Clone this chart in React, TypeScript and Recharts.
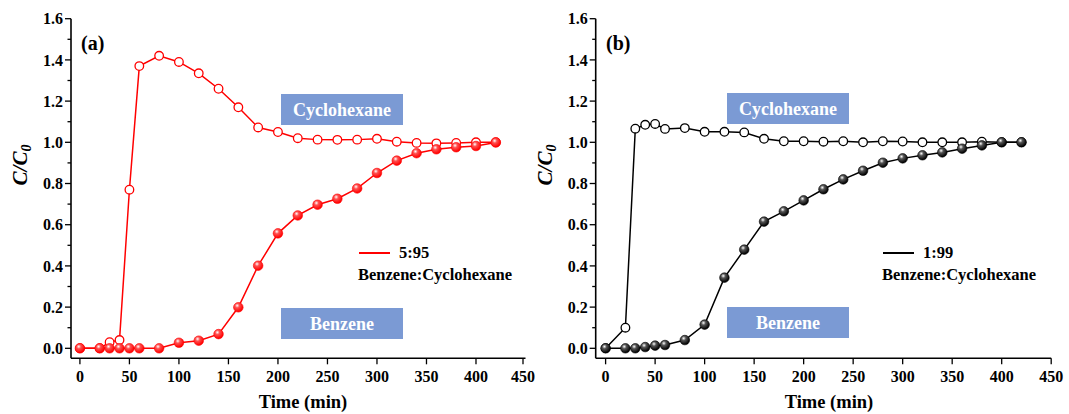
import React from "react";
import { LineChart, Line, XAxis, YAxis } from "recharts";

// sampling times (min), shared by both panels
const times = [0, 20, 30, 40, 50, 60, 80, 100, 120, 140, 160, 180, 200, 220, 240, 260, 280, 300, 320, 340, 360, 380, 400, 420];

// panel (a) 5:95
const cycloA = [0, 0, 0.03, 0.04, 0.77, 1.37, 1.42, 1.39, 1.335, 1.26, 1.17, 1.072, 1.05, 1.02, 1.013, 1.012, 1.013, 1.017, 1.003, 0.997, 0.995, 0.997, 1.0, 1.0];
const benzA = [0, 0, 0, 0, 0, 0, 0, 0.027, 0.037, 0.069, 0.199, 0.401, 0.558, 0.645, 0.697, 0.726, 0.776, 0.851, 0.911, 0.947, 0.966, 0.976, 0.982, 0.999];

// panel (b) 1:99
const cycloB = [0, 0.1, 1.066, 1.085, 1.089, 1.065, 1.069, 1.051, 1.051, 1.048, 1.017, 1.005, 1.005, 1.003, 1.005, 1.0, 1.005, 1.004, 1.0, 1.0, 1.0, 1.003, 1.0, 1.0];
const benzB = [0, 0, 0, 0.006, 0.013, 0.016, 0.04, 0.115, 0.343, 0.479, 0.615, 0.665, 0.718, 0.772, 0.82, 0.862, 0.901, 0.922, 0.937, 0.951, 0.969, 0.985, 1.0, 1.0];

const xTicks = [0, 50, 100, 150, 200, 250, 300, 350, 400, 450];
const yTicks = [0, 0.1, 0.2, 0.3, 0.4, 0.5, 0.6, 0.7, 0.8, 0.9, 1.0, 1.1, 1.2, 1.3, 1.4, 1.5, 1.6];

const FONT = "'Liberation Serif', 'Times New Roman', serif";
const BOX = "#7b9ad4";

const YTick = (props: any) => {
  const { x, y, payload } = props;
  const v = payload.value;
  const major = Math.round(v * 10) % 2 === 0;
  return (
    <g>
      <line x1={x} x2={x - (major ? 6 : 3.5)} y1={y} y2={y} stroke="#000" strokeWidth={1.3} />
      {major && (
        <text x={x - 8} y={y} dy="0.36em" textAnchor="end" fontFamily={FONT} fontWeight="bold" fontSize={16} fill="#000">
          {v.toFixed(1)}
        </text>
      )}
    </g>
  );
};

const XTick = (props: any) => {
  const { x, y, payload } = props;
  return (
    <g>
      <line x1={x} x2={x} y1={y} y2={y + 6} stroke="#000" strokeWidth={1.3} />
      <text x={x} y={y + 18} dy="0.36em" textAnchor="middle" fontFamily={FONT} fontWeight="bold" fontSize={16} fill="#000">
        {payload.value}
      </text>
    </g>
  );
};

const OpenDot = (color: string) => (props: any) => {
  const { cx, cy, index } = props;
  if (cx == null || cy == null) return <g key={index} />;
  return <circle key={index} cx={cx} cy={cy} r={4.3} fill="#fff" stroke={color} strokeWidth={1.3} />;
};

const BallDot = (grad: string, color: string) => (props: any) => {
  const { cx, cy, index } = props;
  if (cx == null || cy == null) return <g key={index} />;
  return <circle key={index} cx={cx} cy={cy} r={4.8} fill={`url(#${grad})`} stroke={color} strokeWidth={0.6} />;
};

interface PanelProps {
  left: number;
  plotLeft: number;
  plotRight: number;
  xMin: number;
  color: string;
  highlight: string;
  grad: string;
  cyclo: number[];
  benz: number[];
}

const Panel = ({ left, plotLeft, plotRight, xMin, color, highlight, grad, cyclo, benz }: PanelProps) => {
  const data = times.map((t, i) => ({ t, cyclo: cyclo[i], benz: benz[i] }));
  return (
    <div style={{ position: "absolute", left, top: 0 }}>
      <LineChart
        width={535}
        height={414}
        data={data}
        margin={{ top: 18.7, right: 535 - plotRight, left: 0, bottom: 0 }}
      >
        <defs>
          <radialGradient id={grad} cx="38%" cy="32%" r="65%">
            <stop offset="0%" stopColor="#ffffff" />
            <stop offset="35%" stopColor={highlight} />
            <stop offset="100%" stopColor={color} />
          </radialGradient>
        </defs>
        <XAxis
          dataKey="t"
          type="number"
          domain={[xMin, 450]}
          ticks={xTicks}
          tick={<XTick />}
          tickLine={false}
          tickSize={0}
          tickMargin={0}
          height={55.7}
          axisLine={{ stroke: "#000", strokeWidth: 1.6 }}
          allowDataOverflow
        />
        <XAxis
          xAxisId="top"
          orientation="top"
          type="number"
          domain={[xMin, 450]}
          tick={false}
          tickLine={false}
          height={0}
          axisLine={{ stroke: "#000", strokeWidth: 1.6 }}
        />
        <YAxis
          type="number"
          domain={[-0.0485, 1.6]}
          ticks={yTicks}
          tick={<YTick />}
          tickLine={false}
          tickSize={0}
          tickMargin={0}
          width={plotLeft}
          axisLine={{ stroke: "#000", strokeWidth: 1.6 }}
          allowDataOverflow
          interval={0}
        />
        <YAxis
          yAxisId="right"
          orientation="right"
          type="number"
          domain={[-0.0485, 1.6]}
          tick={false}
          tickLine={false}
          width={0}
          axisLine={{ stroke: "#000", strokeWidth: 1.6 }}
        />
        <Line
          dataKey="cyclo"
          stroke={color}
          strokeWidth={1.5}
          dot={OpenDot(color)}
          activeDot={false}
          isAnimationActive={false}
        />
        <Line
          dataKey="benz"
          stroke={color}
          strokeWidth={1.5}
          dot={BallDot(grad, color)}
          activeDot={false}
          isAnimationActive={false}
        />
      </LineChart>
    </div>
  );
};

const textBase: React.CSSProperties = {
  position: "absolute",
  fontFamily: FONT,
  fontWeight: "bold",
  whiteSpace: "nowrap",
  lineHeight: 1,
};

const LabelBox = ({ x, y, text }: { x: number; y: number; text: string }) => (
  <div
    style={{
      ...textBase,
      left: x,
      top: y,
      width: 122,
      height: 31,
      background: BOX,
      color: "#fff",
      fontSize: 18,
      display: "flex",
      alignItems: "center",
      justifyContent: "center",
    }}
  >
    {text}
  </div>
);

const YTitle = ({ cx, cy }: { cx: number; cy: number }) => (
  <div
    style={{
      ...textBase,
      left: cx,
      top: cy,
      fontSize: 21,
      fontStyle: "italic",
      transform: "translate(-50%, -50%) rotate(-90deg)",
    }}
  >
    C/C<sub style={{ fontSize: 14, verticalAlign: "-0.25em" }}>0</sub>
  </div>
);

const XTitle = ({ cx }: { cx: number }) => (
  <div style={{ ...textBase, left: cx, top: 393, fontSize: 18.5, transform: "translateX(-50%)" }}>Time (min)</div>
);

const Legend = ({ x, y, ratio, color }: { x: number; y: number; ratio: string; color: string }) => (
  <>
    <div style={{ position: "absolute", left: x + 1, top: y - 1, width: 31, height: 0, borderTop: `2px solid ${color}` }} />
    <div style={{ ...textBase, left: x + 41, top: y - 8, fontSize: 16.5 }}>{ratio}</div>
    <div style={{ ...textBase, left: x, top: y + 14, fontSize: 16.5 }}>Benzene:Cyclohexane</div>
  </>
);

export default function App() {
  return (
    <div style={{ position: "absolute", left: 0, top: 0, width: 1069, height: 414, background: "#fff", overflow: "hidden" }}>
      <Panel left={0} plotLeft={71} plotRight={525.5} xMin={-9} color="#ff0000" highlight="#ff5050" grad="ballRed" cyclo={cycloA} benz={benzA} />
      <Panel left={530} plotLeft={65.7} plotRight={521.2} xMin={-10} color="#000000" highlight="#555555" grad="ballBlack" cyclo={cycloB} benz={benzB} />

      <div style={{ ...textBase, left: 81, top: 33, fontSize: 20 }}>(a)</div>
      <div style={{ ...textBase, left: 606, top: 33, fontSize: 20 }}>(b)</div>

      <LabelBox x={281} y={94} text="Cyclohexane" />
      <LabelBox x={281} y={308} text="Benzene" />
      <LabelBox x={727} y={93} text="Cyclohexane" />
      <LabelBox x={727} y={307} text="Benzene" />

      <Legend x={358} y={253} ratio="5:95" color="#ff0000" />
      <Legend x={882} y={253} ratio="1:99" color="#000000" />

      <YTitle cx={22} cy={165} />
      <YTitle cx={547} cy={165} />
      <XTitle cx={303} />
      <XTitle cx={829} />
    </div>
  );
}
